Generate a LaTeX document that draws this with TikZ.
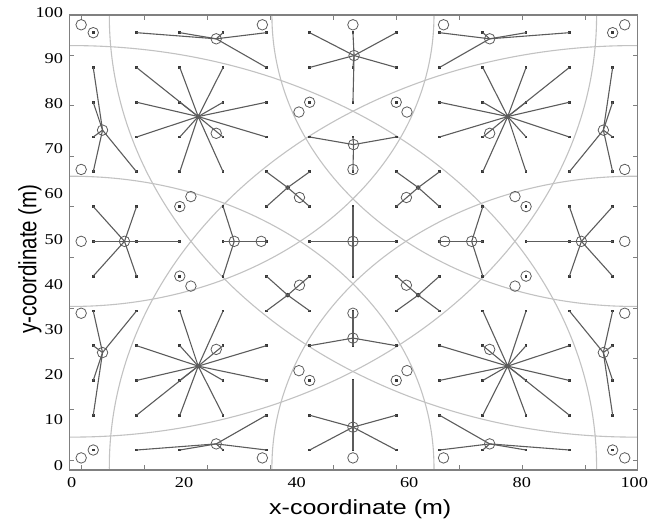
\documentclass[tikz,border=0pt]{standalone}
\usepackage{fontspec}
\setmainfont{Liberation Serif}
\setsansfont{Liberation Sans}
\usepackage{graphicx}
\usepackage{tikz}
\usetikzlibrary{positioning}

\definecolor{linkgray}{gray}{0.36}
\definecolor{dotgray}{gray}{0.22}
\definecolor{arcgray}{gray}{0.76}
\definecolor{framegray}{gray}{0.5}

\tikzset{
  sensor/.style={rectangle, fill=dotgray, minimum size=2.8pt, inner sep=0pt},
  head/.style={circle, draw=linkgray, line width=0.8pt, minimum size=10.5pt, inner sep=0pt},
  hub/.style={circle, fill=dotgray, minimum size=4.5pt, inner sep=0pt},
  ghost/.style={circle, draw=linkgray, line width=0.8pt, minimum size=10.5pt, inner sep=0pt},
  link/.style={draw=linkgray, line width=1.1pt},
  ring/.style={draw=arcgray, line width=1.1pt},
  tickmark/.style={draw=framegray, line width=1pt},
  ticklbl/.style={font=\fontsize{15}{15}\selectfont, inner sep=0pt},
  axtitle/.style={font=\sffamily\fontsize{20.5}{24}\selectfont, inner sep=0pt}
}

\begin{document}
\begin{tikzpicture}[x=5.627pt, y=4.521pt]
\useasboundingbox (-12.724,-11.635) rectangle (102.435,103.384);

% coverage rings round the corners
\begin{scope}
\clip (-0.4,-0.6) rectangle (100.6,100.1);
\foreach \cx/\cy in {0/0,100/0,0/100,100/100} {
  \draw[ring] (\cx,\cy) circle[radius=93.3];
  \draw[ring] (\cx,\cy) circle[radius=64.4];
}
\end{scope}

% frame and ticks
\draw[framegray, line width=1.6pt] (-0.4,-0.6) rectangle (100.6,100.1);
\foreach \t in {0,...,8} {
  \draw[tickmark] ({1.8+11.2*\t},-0.6) -- ++(0,1.1);
  \draw[tickmark] ({1.8+11.2*\t},100.1) -- ++(0,-1.1);
  \draw[tickmark] (-0.4,{1.6+11.2*\t}) -- ++(0.9,0);
  \draw[tickmark] (100.6,{1.6+11.2*\t}) -- ++(-0.9,0);
}
\foreach \v in {0,20,...,100}
  \node[ticklbl] (xl\v) at (\v,-3.45) {\scalebox{1.22}[1]{\v}};
\foreach \v in {0,10,...,100}
  \node[ticklbl, anchor=east] (yl\v) at (-1.5,\v+0.5) {\scalebox{1.22}[1]{\v}};
\node[axtitle] (xtitle) at (51.3,-9.2) {\scalebox{1.22}[1]{x-coordinate (m)}};
\node[axtitle, rotate=90] (ytitle) at (-7.4,46.1) {\scalebox{1}[1.22]{y-coordinate (m)}};

% sensor grid
\foreach \c in {0,...,12}
  \foreach \r in {0,...,12}
    \node[sensor] (n\c-\r) at ({(\c+0.5)*100/13},{(\r+0.5)*100/13}) {};

% cluster heads, top-left
\node[head] (hA1) at (25.7,94.8) {};
\foreach \m in {1-12,2-12,3-12,4-12,4-11} \draw[link] (hA1.center) -- (n\m.center);
\node[head] (hA2) at (5.5,74.6) {};
\foreach \m in {0-11,0-10,0-9,0-8,1-8} \draw[link] (hA2.center) -- (n\m.center);
\node[hub] (hA3) at (22.5,77.6) {};
\foreach \m in {1-11,2-11,3-11,1-10,2-10,3-10,4-10,1-9,2-9,3-9,4-9,2-8,3-8} \draw[link] (hA3.center) -- (n\m.center);
\node[hub] (hA4) at (38.4,61.9) {};
\foreach \m in {4-8,5-8,4-7,5-7} \draw[link] (hA4.center) -- (n\m.center);

% top-right
\node[head] (hB1) at (74.3,94.8) {};
\foreach \m in {11-12,10-12,9-12,8-12,8-11} \draw[link] (hB1.center) -- (n\m.center);
\node[head] (hB2) at (94.5,74.6) {};
\foreach \m in {12-11,12-10,12-9,12-8,11-8} \draw[link] (hB2.center) -- (n\m.center);
\node[hub] (hB3) at (77.5,77.6) {};
\foreach \m in {11-11,10-11,9-11,11-10,10-10,9-10,8-10,11-9,10-9,9-9,8-9,10-8,9-8} \draw[link] (hB3.center) -- (n\m.center);
\node[hub] (hB4) at (61.6,61.9) {};
\foreach \m in {8-8,7-8,8-7,7-7} \draw[link] (hB4.center) -- (n\m.center);

% bottom-left
\node[head] (hC1) at (25.7,5.2) {};
\foreach \m in {1-0,2-0,3-0,4-0,4-1} \draw[link] (hC1.center) -- (n\m.center);
\node[head] (hC2) at (5.5,25.4) {};
\foreach \m in {0-1,0-2,0-3,0-4,1-4} \draw[link] (hC2.center) -- (n\m.center);
\node[hub] (hC3) at (22.5,22.4) {};
\foreach \m in {1-1,2-1,3-1,1-2,2-2,3-2,4-2,1-3,2-3,3-3,4-3,2-4,3-4} \draw[link] (hC3.center) -- (n\m.center);
\node[hub] (hC4) at (38.4,38.1) {};
\foreach \m in {4-4,5-4,4-5,5-5} \draw[link] (hC4.center) -- (n\m.center);

% bottom-right
\node[head] (hD1) at (74.3,5.2) {};
\foreach \m in {11-0,10-0,9-0,8-0,8-1} \draw[link] (hD1.center) -- (n\m.center);
\node[head] (hD2) at (94.5,25.4) {};
\foreach \m in {12-1,12-2,12-3,12-4,11-4} \draw[link] (hD2.center) -- (n\m.center);
\node[hub] (hD3) at (77.5,22.4) {};
\foreach \m in {11-1,10-1,9-1,11-2,10-2,9-2,8-2,11-3,10-3,9-3,8-3,10-4,9-4} \draw[link] (hD3.center) -- (n\m.center);
\node[hub] (hD4) at (61.6,38.1) {};
\foreach \m in {8-4,7-4,8-5,7-5} \draw[link] (hD4.center) -- (n\m.center);

% along y = 50
\node[head] (hE1) at (9.4,50) {};
\foreach \m in {0-7,1-7,0-6,1-6,2-6,0-5,1-5} \draw[link] (hE1.center) -- (n\m.center);
\node[head] (hE2) at (28.9,50) {};
\foreach \m in {3-7,3-6,4-6,3-5} \draw[link] (hE2.center) -- (n\m.center);
\node[head] (hE3) at (90.6,50) {};
\foreach \m in {12-7,11-7,12-6,11-6,10-6,12-5,11-5} \draw[link] (hE3.center) -- (n\m.center);
\node[head] (hE4) at (71.1,50) {};
\foreach \m in {9-7,9-6,8-6,9-5} \draw[link] (hE4.center) -- (n\m.center);

% along x = 50
\node[head] (hF1) at (50.2,91.1) {};
\foreach \m in {5-12,5-11,6-12,6-11,6-10,7-12,7-11} \draw[link] (hF1.center) -- (n\m.center);
\node[head] (hF2) at (50.1,71.4) {};
\foreach \m in {5-9,7-9,6-9,6-8} \draw[link] (hF2.center) -- (n\m.center);
\node[head] (hF3) at (50,8.9) {};
\foreach \m in {5-0,5-1,6-0,6-1,6-2,7-0,7-1} \draw[link] (hF3.center) -- (n\m.center);
\node[head] (hF4) at (50,28.6) {};
\foreach \m in {5-3,7-3,6-3,6-4} \draw[link] (hF4.center) -- (n\m.center);
\node[head] (hG) at (n6-6) {};
\foreach \m in {5-6,7-6,6-7,6-5} \draw[link] (hG.center) -- (n\m.center);

% lone nodes
\foreach \m in {0-12,5-10,2-7,12-12,7-10,10-7,0-0,5-2,2-5,12-0,7-2,10-5}
  \node[head] (k\m) at (n\m) {};

% companion positions
\foreach \g/\gx/\gy in {gA1/33.9/97.9, gA2/1.7/65.9, gA3/25.7/73.9, gA4/40.5/59.7,
    gB1/66.1/97.9, gB2/98.3/65.9, gB3/74.3/73.9, gB4/59.5/59.7,
    gC1/33.9/2.1, gC2/1.7/34.1, gC3/25.7/26.1, gC4/40.5/40.3,
    gD1/66.1/2.1, gD2/98.3/34.1, gD3/74.3/26.1, gD4/59.5/40.3,
    gE1/1.7/50, gE2/33.7/50, gE3/98.3/50, gE4/66.3/50,
    gF1/50/97.9, gF2/50/65.9, gF3/50/2.1, gF4/50/34.1,
    gK1/1.7/97.9, gK2/40.4/78.6, gK3/21.2/59.9, gK4/98.3/97.9, gK5/59.6/78.6, gK6/78.8/59.9,
    gK7/1.7/2.1, gK8/40.4/21.4, gK9/21.2/40.1, gK10/98.3/2.1, gK11/59.6/21.4, gK12/78.8/40.1}
  \node[ghost] (\g) at (\gx,\gy) {};
\end{tikzpicture}
\end{document}
